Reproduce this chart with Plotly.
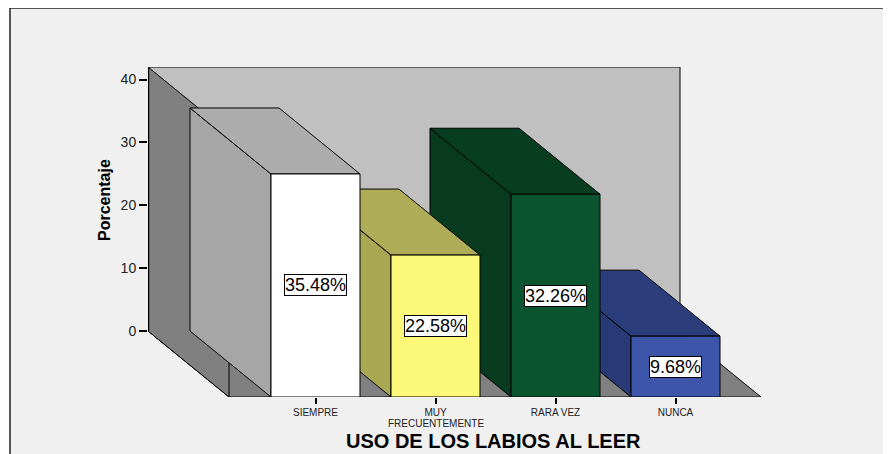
import plotly.graph_objects as go

# ---- data ----
categories = ["SIEMPRE", "MUY", "RARA VEZ", "NUNCA"]
category_second_line = ["", "FRECUENTEMENTE", "", ""]
percentages = [35.48, 22.58, 32.26, 9.68]
y_ticks = [0, 10, 20, 30, 40]
front_colors = ["#ffffff", "#fbf87a", "#0a5530", "#3c55a8"]
side_colors = ["#a6a6a6", "#a9a852", "#083a1f", "#283a76"]
top_colors = ["#acacac", "#aeac56", "#073d20", "#2b3d7a"]

# ---- layout geometry (reference-page pixels) ----
PAGE_OFF = 8                      # default body margin of the html page
W, H = 891 - PAGE_OFF, 454 - PAGE_OFF


def fx(p):  # page pixel -> figure pixel
    return p - PAGE_OFF


PL, PR, PT, PB = fx(148), fx(761), fx(67), fx(397)   # plot area
CAT0_PX, CAT_STEP = fx(315.5), 120.0
Y_LO, Y_HI = -10.5, 42.0
DEPTH_PX = 81.0
HALF_W = 89.0 / 120.0 / 2
BACK_RIGHT_PX = fx(680)

X_LO = (PL - CAT0_PX) / CAT_STEP
X_HI = (PR - CAT0_PX) / CAT_STEP
DX = -DEPTH_PX / CAT_STEP   # back = front + (DX, DY)
DY = -Y_LO
XB_L = X_LO
XB_R = (BACK_RIGHT_PX - CAT0_PX) / CAT_STEP


def px_x(p):
    return (fx(p) - PL) / (PR - PL)


def px_y(p):
    return (PB - fx(p)) / (PB - PT)


FONT = "Liberation Sans, Arial, sans-serif"

fig = go.Figure()


def face(xs, ys, color, width=1):
    fig.add_trace(go.Scatter(
        x=xs + [xs[0]], y=ys + [ys[0]], mode="lines", fill="toself",
        fillcolor=color, line=dict(color="black", width=width),
        hoverinfo="skip", showlegend=False))


# back wall
face([XB_L, XB_L, XB_R, XB_R], [0, Y_HI, Y_HI, 0], "#c0c0c0")
# floor
face([XB_L, XB_R, XB_R - DX, XB_L - DX], [0, 0, -DY, -DY], "#808080")
# left wall
face([XB_L, XB_L, XB_L - DX, XB_L - DX], [0, Y_HI, Y_HI - DY, -DY], "#808080")
fig.add_trace(go.Scatter(x=[XB_L, XB_L], y=[0, Y_HI], mode="lines",
                         line=dict(color="black", width=2.5),
                         hoverinfo="skip", showlegend=False))

# bars drawn right-to-left (left bars are nearer to viewer)
for i in reversed(range(len(percentages))):
    v = percentages[i]
    fl, fr = i - HALF_W, i + HALF_W
    ft, fb = v - DY, -DY
    bl, br = fl + DX, fr + DX
    bt = v
    face([bl, fl, fl, bl], [bt, ft, fb, 0], side_colors[i])      # side
    face([bl, br, fr, fl], [bt, bt, ft, ft], top_colors[i])      # top
    face([fl, fr, fr, fl], [ft, ft, fb, fb], front_colors[i])    # front

annotations = []
for i, v in enumerate(percentages):
    annotations.append(dict(
        x=i, y=v / 2 - DY, xref="x", yref="y", text=f"{v:.2f}%",
        showarrow=False, bgcolor="white", bordercolor="black",
        borderwidth=1, borderpad=0,
        font=dict(family=FONT, size=18, color="black")))

for i, t in enumerate(category_second_line):
    if t:
        annotations.append(dict(
            x=i, y=px_y(423), xref="x", yref="paper", text=t,
            showarrow=False, xanchor="center", yanchor="middle",
            font=dict(family=FONT, size=10, color="#222222")))

annotations.append(dict(
    x=px_x(493.5), y=px_y(441), xref="paper", yref="paper",
    text="<b>USO DE LOS LABIOS AL LEER</b>", showarrow=False,
    xanchor="center", yanchor="middle",
    font=dict(family=FONT, size=20, color="black")))
annotations.append(dict(
    x=px_x(104), y=px_y(200), xref="paper", yref="paper",
    text="<b>Porcentaje</b>", showarrow=False, textangle=-90,
    xanchor="center", yanchor="middle",
    font=dict(family=FONT, size=16, color="black")))

shapes = [dict(
    type="rect", xref="paper", yref="paper", layer="below",
    x0=px_x(10), y0=px_y(480), x1=px_x(920), y1=px_y(8),
    fillcolor="#f0f0f0", line=dict(color="#222222", width=1.5))]

fig.update_layout(
    width=W, height=H, autosize=False,
    margin=dict(l=PL, r=W - PR, t=PT, b=H - PB, pad=0),
    paper_bgcolor="white", plot_bgcolor="rgba(0,0,0,0)",
    showlegend=False, annotations=annotations, shapes=shapes,
    xaxis=dict(range=[X_LO, X_HI], tickvals=list(range(len(categories))),
               ticktext=categories, ticks="outside", ticklen=6,
               tickcolor="black", tickwidth=1.5, showgrid=False,
               zeroline=False, showline=False, fixedrange=True,
               tickfont=dict(family=FONT, size=10, color="#222222")),
    yaxis=dict(range=[Y_LO, Y_HI], tickvals=y_ticks, ticks="outside",
               ticklen=8, tickcolor="black", tickwidth=1.5,
               showgrid=False, zeroline=False, showline=False,
               fixedrange=True,
               tickfont=dict(family=FONT, size=14, color="#222222")),
)

fig.write_html("out.html")
